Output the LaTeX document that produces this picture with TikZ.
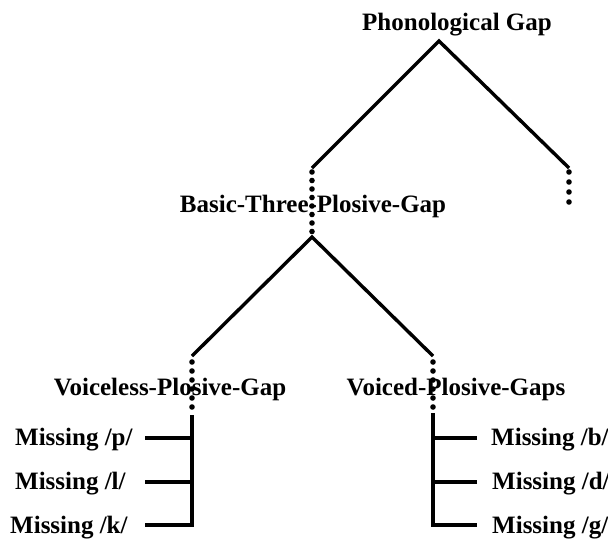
\documentclass[tikz,border=0pt]{standalone}
\usepackage{fontspec}
\setmainfont{Liberation Serif}
\begin{document}
\begin{tikzpicture}[x=1pt,y=-1pt,
  label/.style={font=\fontsize{25}{30}\selectfont\bfseries, inner sep=0pt, anchor=base},
  leaf/.style={label, anchor=base west},
  branch/.style={line width=3.4pt, line join=miter},
  dotmark/.style={fill=black}]
\useasboundingbox (0,0) rectangle (608,542);

% fork points and branch ends
\coordinate (rootfork)  at (439,41);
\coordinate (basicTop)  at (312,168);
\coordinate (otherTop)  at (569,168);
\coordinate (basicFork) at (312,237);
\coordinate (vlTop)     at (192,356);
\coordinate (vdTop)     at (433,356);
\coordinate (vlStem)    at (192,415);
\coordinate (vlEnd)     at (192,525);
\coordinate (vdStem)    at (433,413);
\coordinate (vdEnd)     at (433,525);

% ellipsis dots on the vertical stems
\foreach \y in {172,180.5,189,197.5,206,214.5,223,231.5}
  \fill[dotmark] (312,\y) circle (2.8pt);
\foreach \y in {172,182,192,202}
  \fill[dotmark] (569,\y) circle (2.8pt);
\foreach \y in {362,371,380,389,398,407}{
  \fill[dotmark] (192,\y) circle (2.8pt);
  \fill[dotmark] (433,\y) circle (2.8pt);
}

% labels
\node[label] (root)      at (457,30)  {Phonological Gap};
\node[label] (basic)     at (313,212) {Basic-Three-Plosive-Gap};
\node[label] (voiceless) at (170,395) {Voiceless-Plosive-Gap};
\node[label] (voiced)    at (456,395) {Voiced-Plosive-Gaps};

\node[leaf] (missP) at (15,445) {Missing /p/};
\node[leaf] (missL) at (15,489) {Missing /l/};
\node[leaf] (missK) at (10,533) {Missing /k/};
\node[leaf] (missB) at (491,445) {Missing /b/};
\node[leaf] (missD) at (492,489) {Missing /d/};
\node[leaf] (missG) at (492,533) {Missing /g/};

% tick ends beside the leaf labels
\coordinate (tickP) at (145,438);
\coordinate (tickL) at (145,482);
\coordinate (tickK) at (145,525);
\coordinate (tickB) at (477,438);
\coordinate (tickD) at (477,482);
\coordinate (tickG) at (477,525);

% tree branches
\draw[branch] (basicTop) -- (rootfork) -- (otherTop);
\draw[branch] (vlTop) -- (basicFork) -- (vdTop);

% leaf brackets
\draw[branch] (vlStem) -- (vlEnd) -- (tickK);
\draw[branch] (tickP) -- (tickP -| vlStem);
\draw[branch] (tickL) -- (tickL -| vlStem);
\draw[branch] (vdStem) -- (vdEnd) -- (tickG);
\draw[branch] (tickB) -- (tickB -| vdStem);
\draw[branch] (tickD) -- (tickD -| vdStem);
\end{tikzpicture}
\end{document}
